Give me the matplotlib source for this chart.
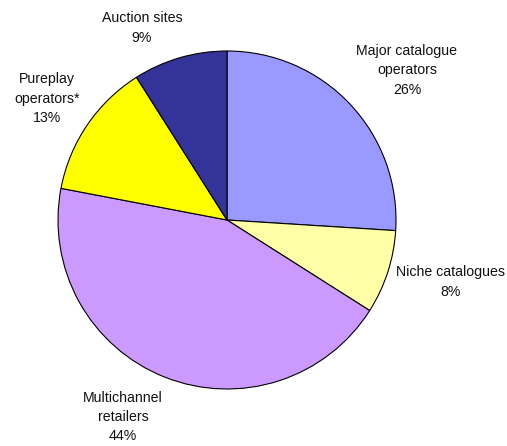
import matplotlib.pyplot as plt

# Share of online sales by retailer type
segments = ['Major catalogue\noperators', 'Niche catalogues', 'Multichannel\nretailers',
            'Pureplay\noperators*', 'Auction sites']
shares = [26, 8, 44, 13, 9]
colors = ['#9999FF', '#FFFFA8', '#CC99FF', '#FFFF00', '#333399']

# label anchor points in pixel space (x, y from top)
label_pos = [(407, 70), (451, 282), (123, 417), (47, 99), (142, 28)]

W, H = 507, 446
fig = plt.figure(figsize=(W / 100, H / 100), dpi=100)
ax = fig.add_axes([0, 0, 1, 1])

ax.pie(shares, colors=colors, startangle=90, counterclock=False,
       center=(227, H - 220), radius=169, frame=True,
       wedgeprops=dict(edgecolor='black', linewidth=0.8))
ax.set_xlim(0, W)
ax.set_ylim(0, H)
ax.set_aspect('equal')
ax.axis('off')

for name, val, (x, y) in zip(segments, shares, label_pos):
    ax.text(x, H - y, f'{name}\n{val}%', ha='center', va='center',
            fontsize=10.2, family='Liberation Sans', linespacing=1.5, color='#111111')

fig.savefig('out.png', dpi=100)
